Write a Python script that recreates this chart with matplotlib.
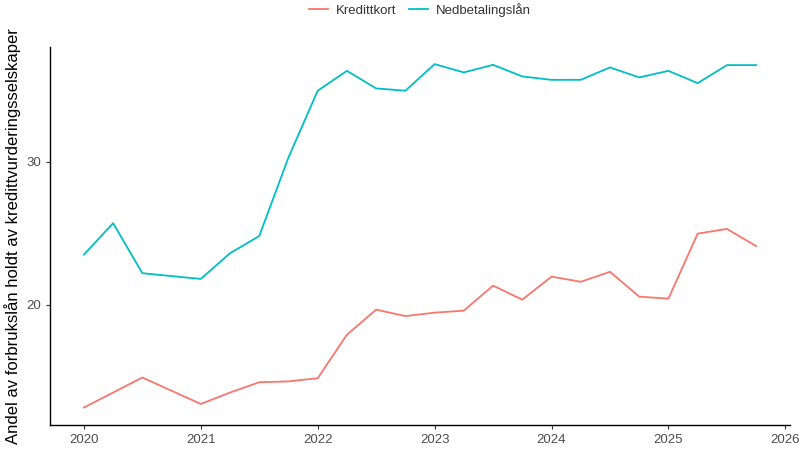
import matplotlib.pyplot as plt

plt.rcParams['font.family'] = ['Liberation Sans', 'DejaVu Sans']

# quarterly observations (2020 Q4 not reported)
quarters = [2020.0, 2020.25, 2020.5, 2021.0, 2021.25, 2021.5, 2021.75,
            2022.0, 2022.25, 2022.5, 2022.75, 2023.0, 2023.25, 2023.5, 2023.75,
            2024.0, 2024.25, 2024.5, 2024.75, 2025.0, 2025.25, 2025.5, 2025.75]

kredittkort = [12.8, 13.85, 14.9, 13.05, 13.85, 14.57, 14.63,
               14.85, 17.9, 19.65, 19.2, 19.44, 19.58, 21.33, 20.35,
               21.96, 21.6, 22.3, 20.56, 20.42, 24.97, 25.3, 24.1]

nedbetalingslan = [23.5, 25.7, 22.2, 21.8, 23.6, 24.8, 30.3,
                   34.97, 36.36, 35.13, 34.97, 36.83, 36.25, 36.78, 35.97,
                   35.73, 35.73, 36.6, 35.9, 36.36, 35.5, 36.76, 36.76]

x_ticks = [2020, 2021, 2022, 2023, 2024, 2025, 2026]
y_ticks = [20, 30]

fig = plt.figure(figsize=(8, 4.5), dpi=100)
ax = fig.add_axes([0.0625, 0.0556, 0.925, 0.84])

ax.plot(quarters, kredittkort, color='#F8766D', lw=1.3, label='Kredittkort')
ax.plot(quarters, nedbetalingslan, color='#00BFC4', lw=1.3, label='Nedbetalingslån')

ax.set_xlim(2019.71, 2026.04)
ax.set_ylim(11.58, 38.03)
ax.set_xticks(x_ticks)
ax.set_yticks(y_ticks)
ax.tick_params(colors='#4D4D4D', labelsize=9.5, length=3, width=0.8)
ax.tick_params(axis='both', color='#333333')
for s in ['top', 'right']:
    ax.spines[s].set_visible(False)
for s in ['left', 'bottom']:
    ax.spines[s].set_linewidth(1.0)
    ax.spines[s].set_color('black')

ax.set_ylabel('Andel av forbrukslån holdt av kredittvurderingsselskaper', fontsize=12, labelpad=4)

# legend centred over the panel, like ggplot
fig.legend(loc='upper center', bbox_to_anchor=(0.525, 1.02), ncol=2, frameon=False,
           fontsize=9.5, handlelength=1.4, handletextpad=0.6, columnspacing=1.0,
           labelcolor='#333333')

fig.savefig('out.png', dpi=100)
plt.close()
